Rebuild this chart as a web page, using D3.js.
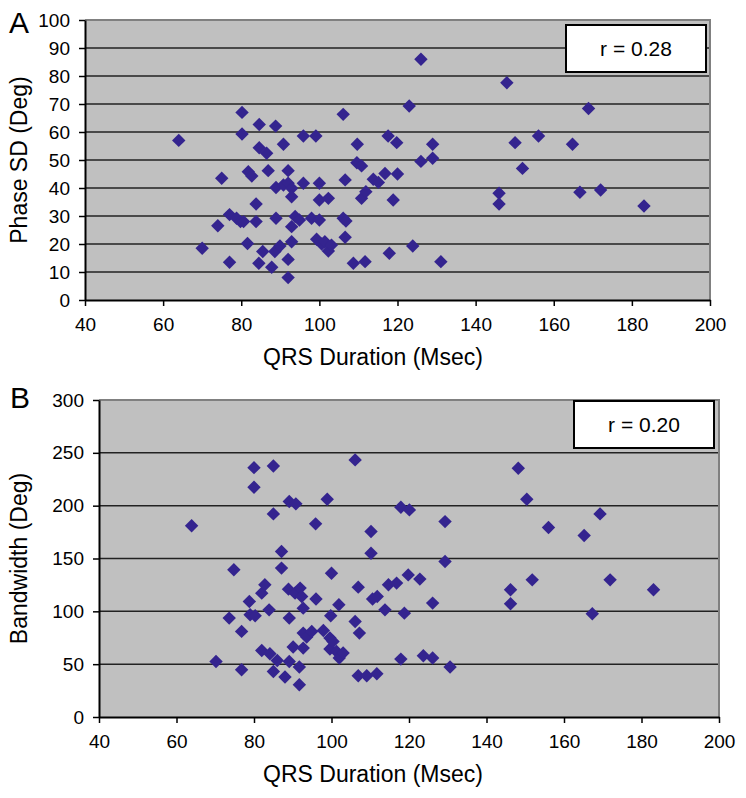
<!DOCTYPE html>
<html><head><meta charset="utf-8">
<script src="https://cdn.jsdelivr.net/npm/d3@7"></script>
<style>
body{margin:0;background:#fff}
svg{display:block;font-family:"Liberation Sans",Arial,sans-serif}
</style>
</head><body>
<svg id="c" width="746" height="798"></svg>
<script>
// ---------- data ----------
const xTicks = [40, 60, 80, 100, 120, 140, 160, 180, 200];
const yTicksA = [0, 10, 20, 30, 40, 50, 60, 70, 80, 90, 100];
const yTicksB = [0, 50, 100, 150, 200, 250, 300];

const qrsA = [64, 70, 74, 75, 77, 77, 78.8, 79.8, 80.2, 80.2, 80.6, 81.6, 81.8, 82.7, 83.8, 83.8, 84.5, 85.5, 84.6, 84.6,
  86.5, 86.9, 87.8, 88.6, 88.8, 88.9, 88.9, 89.9, 90.8, 90.8, 92, 92, 92.9, 92.9, 92.9, 92.9, 92, 92, 93.8, 94.9,
  95.9, 95.9, 98, 99.1, 99.3, 100, 100, 100, 100.6, 101.4, 102.3, 102.3, 103.1, 106.1, 106.6, 106.1, 106.8, 106.6, 108.7, 109.7,
  109.6, 110.8, 110.8, 111.9, 111.7, 113.8, 115.1, 116.8, 117.6, 117.9, 118.9, 119.8, 120, 123, 123.9, 126, 126, 129, 129, 131.1,
  146, 146, 148, 150.1, 152, 156.1, 164.8, 166.7, 168.9, 172, 183.1];
const phaseSD = [57, 18.5, 26.5, 43.5, 30.5, 13.5, 29.2, 28, 67, 59.3, 28, 20.2, 45.8, 44.3, 34.3, 28, 13.1, 17.3, 62.7, 54.4,
  52.4, 46.2, 11.7, 17.3, 62.1, 40.2, 29.2, 19.3, 55.6, 41.1, 46.2, 41.7, 39.9, 36.9, 26.2, 20.8, 14.5, 8, 29.8, 28.6,
  58.6, 41.7, 29.2, 58.6, 21.7, 41.7, 35.7, 28.6, 20, 20.8, 36.3, 17.5, 19.6, 66.3, 42.9, 29.2, 28.2, 22.4, 13.1, 55.6,
  49, 47.9, 36.3, 38.7, 13.7, 43.1, 42, 45.2, 58.6, 16.7, 35.7, 56.2, 45, 69.3, 19.3, 86, 49.5, 55.6, 50.6, 13.7,
  38.1, 34.3, 77.6, 56.2, 47, 58.6, 55.6, 38.5, 68.4, 39.3, 33.6];

const qrsB = [63.9, 70.2, 73.6, 74.8, 76.8, 76.8, 78.8, 79, 80.3, 80, 80, 82, 82, 82.8, 83.9, 84.1, 85, 85, 85, 86,
  87.1, 87.1, 88, 88.9, 89.1, 89.1, 89.1, 90.1, 90.6, 90.8, 91.7, 91.7, 91.9, 92.3, 92.7, 92.7, 92.7, 93.6, 94.9, 95.9,
  96, 97.9, 98.9, 99.6, 99.6, 99.8, 100, 100.4, 101.3, 101.9, 102, 103, 106.1, 106.1, 106.9, 106.9, 107.2, 109.1, 110.2, 110.2,
  110.6, 111.8, 111.7, 113.8, 114.7, 116.8, 117.9, 117.9, 118.8, 119.8, 120.1, 122.8, 123.7, 126.1, 126.1, 129.3, 129.3, 130.6,
  146.2, 146.2, 148.2, 150.4, 151.8, 156, 165.2, 167.3, 169.3, 171.9, 183.1];
const bandwidth = [181, 52.6, 93.6, 139.3, 81, 44.7, 109.3, 96.7, 95.8, 236, 217.4, 117.2, 63, 125.1, 101.4, 59.8, 237.6, 192.2, 43.1, 53.5,
  156.6, 140.9, 37.8, 121, 203.9, 93.6, 52.6, 66.2, 117.2, 201.7, 47.3, 30.5, 122, 114, 103, 79.4, 65.2, 75.6, 81, 182.8,
  111.6, 81.9, 206.1, 74.7, 64.3, 95.8, 136.1, 71.5, 62, 106.2, 55.8, 60.5, 243.3, 90.4, 122.9, 39, 79.4, 39, 175.5, 155,
  111.6, 114, 40.9, 101.4, 125.1, 126.7, 198.5, 54.8, 98.3, 134.5, 196, 130.5, 58, 107.8, 55.8, 184.9, 147.1, 47.3,
  120.4, 107.1, 235.4, 206.1, 129.8, 179.3, 171.7, 97.7, 192.2, 129.8, 120.4];

const panelLetters = ["A", "B"];
const yTitles = ["Phase SD (Deg)", "Bandwidth (Deg)"];
const xTitle = "QRS Duration (Msec)";
const rLabels = ["r = 0.28", "r = 0.20"];

// ---------- drawing ----------
const svg = d3.select("#c");
const markColor = "#34248f";

function panel(cfg) {
  const g = svg.append("g");
  const x = d3.scaleLinear().domain([40, 200]).range([cfg.left, cfg.right]);
  const y = d3.scaleLinear().domain(cfg.yDomain).range([cfg.bottom, cfg.top]);

  // plot background
  g.append("rect").attr("x", cfg.left).attr("y", cfg.top)
    .attr("width", cfg.right - cfg.left).attr("height", cfg.bottom - cfg.top)
    .attr("fill", "#c0c0c0");

  // gridlines
  g.append("g").selectAll("line").data(cfg.yTicks.filter(t => t > cfg.yDomain[0] && t < cfg.yDomain[1]))
    .join("line")
    .attr("x1", cfg.left).attr("x2", cfg.right)
    .attr("y1", d => y(d)).attr("y2", d => y(d))
    .attr("stroke", "#222").attr("stroke-width", 1.5);

  // gray top/right border
  g.append("path")
    .attr("d", `M${cfg.left},${cfg.top}H${cfg.right}V${cfg.bottom}`)
    .attr("fill", "none").attr("stroke", "#808080").attr("stroke-width", 2);

  // y axis
  const ya = d3.axisLeft(y).tickValues(cfg.yTicks).tickSize(6).tickPadding(9).tickSizeOuter(0);
  const yg = g.append("g").attr("transform", `translate(${cfg.left},0)`).call(ya);
  yg.select(".domain").attr("stroke", "#000").attr("stroke-width", 2);
  yg.selectAll(".tick line").attr("stroke", "#000").attr("stroke-width", 1.5);
  yg.selectAll("text").attr("font-size", 19).attr("fill", "#000")
    .attr("font-family", '"Liberation Sans",Arial,sans-serif');

  // x axis
  const xa = d3.axisBottom(x).tickValues(xTicks).tickSize(6).tickPadding(12).tickSizeOuter(0);
  const xg = g.append("g").attr("transform", `translate(0,${cfg.bottom})`).call(xa);
  xg.select(".domain").attr("stroke", "#000").attr("stroke-width", 2);
  xg.selectAll(".tick line").attr("stroke", "#000").attr("stroke-width", 1.5);
  xg.selectAll("text").attr("font-size", 19).attr("fill", "#000")
    .attr("font-family", '"Liberation Sans",Arial,sans-serif');

  // points
  const diamond = d3.symbol(d3.symbolSquare, 90);
  g.append("g").selectAll("path").data(cfg.xs.map((v, i) => [v, cfg.ys[i]]))
    .join("path")
    .attr("d", diamond)
    .attr("transform", d => `translate(${x(d[0])},${y(d[1])}) rotate(45)`)
    .attr("fill", markColor);

  // r box
  g.append("rect").attr("x", cfg.box[0]).attr("y", cfg.box[1])
    .attr("width", cfg.box[2]).attr("height", cfg.box[3])
    .attr("fill", "#fff").attr("stroke", "#000").attr("stroke-width", 2);
  g.append("text").attr("x", cfg.box[0] + cfg.box[2] / 2).attr("y", cfg.box[1] + cfg.box[3] / 2)
    .attr("dy", "0.36em").attr("text-anchor", "middle").attr("font-size", 21).text(cfg.r);

  // panel letter
  g.append("text").attr("x", cfg.letterPos[0]).attr("y", cfg.letterPos[1])
    .attr("font-size", 30).text(cfg.letter);

  // y title
  g.append("text").attr("transform", `translate(27,${(cfg.top + cfg.bottom) / 2}) rotate(-90)`)
    .attr("text-anchor", "middle").attr("font-size", 23).text(cfg.yTitle);

  // x title
  g.append("text").attr("x", cfg.xTitleX).attr("y", cfg.bottom + 65)
    .attr("text-anchor", "middle").attr("font-size", 23).text(xTitle);
}

panel({
  left: 85, right: 710, top: 20, bottom: 300,
  yDomain: [0, 100], yTicks: yTicksA,
  xs: qrsA, ys: phaseSD,
  box: [566, 25, 140, 47], r: rA = rLabels[0],
  letter: panelLetters[0], letterPos: [9, 33],
  yTitle: yTitles[0], xTitleX: 373
});
panel({
  left: 99, right: 719, top: 400, bottom: 717,
  yDomain: [0, 300], yTicks: yTicksB,
  xs: qrsB, ys: bandwidth,
  box: [574, 401, 140, 47], r: rLabels[1],
  letter: panelLetters[1], letterPos: [10, 408],
  yTitle: yTitles[1], xTitleX: 373
});
</script>
</body></html>
